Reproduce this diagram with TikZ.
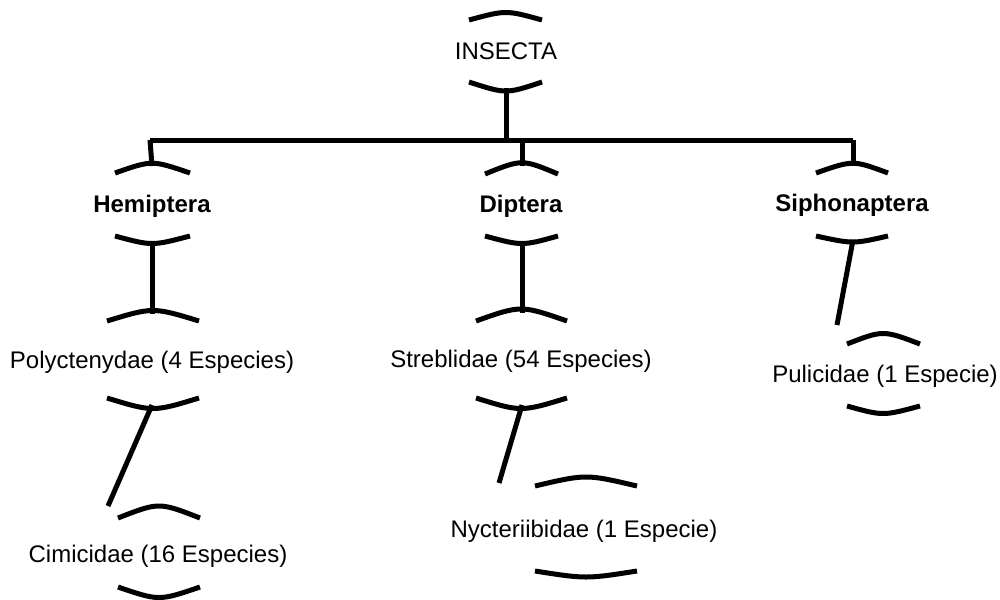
\documentclass[tikz,border=0pt]{standalone}
\usepackage{fontspec}
\setmainfont{Liberation Sans}

\begin{document}
\begin{tikzpicture}[x=0.02cm,y=-0.02cm,
		taxon/.style={anchor=base,inner sep=0pt,font=\fontsize{13.66}{16}\selectfont},
		order/.style={taxon,font=\fontsize{13.66}{16}\selectfont\bfseries},
		bracket/.style={line width=0.1cm},
		link/.style={line width=0.1cm}]
		\useasboundingbox (0,0) rectangle (1000,599);

		% taxa
		\node (insecta) at (506,59) [taxon] {INSECTA};
		\node (hemiptera) at (152,212) [order] {Hemiptera};
		\node (diptera) at (521,212) [order] {Diptera};
		\node (siphonaptera) at (852,211) [order] {Siphonaptera};
		\node (polyctenydae) at (152,368) [taxon] {Polyctenydae (4 Especies)};
		\node (cimicidae) at (158,562) [taxon] {Cimicidae (16 Especies)};
		\node (streblidae) at (521,367) [taxon] {Streblidae (54 Especies)};
		\node (nycteriibidae) at (584,537) [taxon] {Nycteriibidae (1 Especie)};
		\node (pulicidae) at (885,382) [taxon] {Pulicidae (1 Especie)};

		% brackets above and below each name
		\draw [bracket] (469,20) .. controls (506,10) .. (542,20);
		\draw [bracket] (469,82) .. controls (506,94) .. (542,82);
		\draw [bracket] (115,173) .. controls (152,160) .. (190,173);
		\draw [bracket] (115,236) .. controls (152,246) .. (190,236);
		\draw [bracket] (485,174) .. controls (522,159) .. (558,174);
		\draw [bracket] (485,236) .. controls (522,246) .. (558,236);
		\draw [bracket] (816,173) .. controls (853,160) .. (888,173);
		\draw [bracket] (816,236) .. controls (853,244) .. (888,236);
		\draw [bracket] (107,321) .. controls (153,307) .. (199,321);
		\draw [bracket] (107,398) .. controls (153,412) .. (199,398);
		\draw [bracket] (118,518) .. controls (159,502) .. (200,518);
		\draw [bracket] (118,587) .. controls (159,601) .. (200,587);
		\draw [bracket] (476,321) .. controls (521,305) .. (567,321);
		\draw [bracket] (476,398) .. controls (521,412) .. (567,398);
		\draw [bracket] (535,486) .. controls (586,474) .. (637,486);
		\draw [bracket] (535,571) .. controls (586,579) .. (637,571);
		\draw [bracket] (847,344) .. controls (883,330) .. (920,344);
		\draw [bracket] (847,406) .. controls (883,416) .. (920,406);

		% connector ends
		\coordinate (insecta-s) at (506,88);
		\coordinate (bar-l) at (150,140);
		\coordinate (bar-c) at (506,140);
		\coordinate (bar-m) at (522,140);
		\coordinate (bar-r) at (853,140);
		\coordinate (hemiptera-n) at (152,166);
		\coordinate (hemiptera-s) at (152,241);
		\coordinate (diptera-n) at (522,166);
		\coordinate (diptera-s) at (522,241);
		\coordinate (siphonaptera-n) at (853,166);
		\coordinate (siphonaptera-s) at (853,240);
		\coordinate (polyctenydae-n) at (152,314);
		\coordinate (polyctenydae-s) at (152,405);
		\coordinate (streblidae-n) at (522,313);
		\coordinate (streblidae-s) at (522,405);
		\coordinate (cimicidae-end) at (108,506);
		\coordinate (nycteriibidae-end) at (499,483);
		\coordinate (pulicidae-end) at (837,325);

		\draw [link] (insecta-s) -- (bar-c);
		\draw [link] (bar-l) -- (bar-r);
		\draw [link] (bar-l) -- (hemiptera-n);
		\draw [link] (bar-m) -- (diptera-n);
		\draw [link] (bar-r) -- (siphonaptera-n);
		\draw [link] (hemiptera-s) -- (polyctenydae-n);
		\draw [link] (diptera-s) -- (streblidae-n);
		\draw [link] (siphonaptera-s) -- (pulicidae-end);
		\draw [link] (polyctenydae-s) -- (cimicidae-end);
		\draw [link] (streblidae-s) -- (nycteriibidae-end);
	\end{tikzpicture}
\end{document}
